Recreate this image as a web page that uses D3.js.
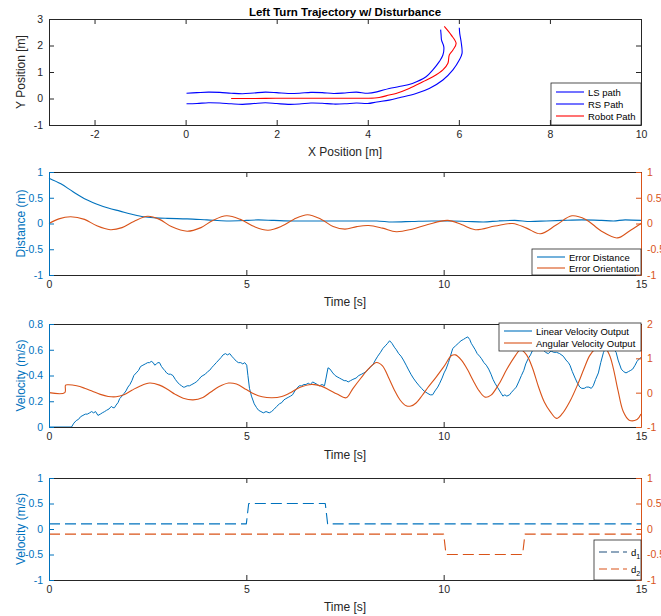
<!DOCTYPE html>
<html><head><meta charset="utf-8">
<script src="https://cdn.jsdelivr.net/npm/d3@7/dist/d3.min.js"></script>
<style>body{margin:0;background:#fff}svg{display:block;font-family:"Liberation Sans",Arial,Helvetica,sans-serif}</style>
</head><body><svg id="c" width="661" height="616"></svg>
<script>
// ---------- DATA ----------
const lsPathX = [0.02,0.25,0.5,0.75,1.0,1.25,1.5,1.75,2.0,2.25,2.5,2.75,3.0,3.25,3.5,3.75,4.0,4.2,4.47,4.69,4.98,5.28,5.43,5.57,5.65,5.67,5.62,5.61,5.6];
const lsPathY = [0.20,0.22,0.24,0.23,0.20,0.18,0.21,0.24,0.22,0.19,0.20,0.23,0.22,0.19,0.21,0.24,0.20,0.25,0.38,0.45,0.57,0.82,1.08,1.39,1.64,1.95,2.2,2.4,2.6];
const rsPathX = [0.02,0.25,0.5,0.75,1.0,1.25,1.5,1.75,2.0,2.25,2.5,2.75,3.0,3.25,3.5,3.75,4.0,4.2,4.47,4.69,5.06,5.35,5.65,5.87,6.01,6.07,6.05,6.02,6.01];
const rsPathY = [-0.20,-0.19,-0.16,-0.17,-0.20,-0.22,-0.19,-0.16,-0.19,-0.22,-0.21,-0.17,-0.18,-0.21,-0.20,-0.17,-0.19,-0.13,-0.06,0.03,0.19,0.38,0.70,1.08,1.45,1.70,2.14,2.45,2.67];
const robotPathX = [1.0,1.5,2.0,2.5,3.0,3.5,4.0,4.25,4.47,4.62,4.91,5.21,5.43,5.65,5.76,5.79,5.87,5.94,5.83,5.68];
const robotPathY = [0,0,0.01,0.01,0.01,0.01,0.01,0.04,0.13,0.19,0.38,0.63,0.82,1.08,1.33,1.64,1.83,2.08,2.40,2.72];

const errDistT = [0,0.3,0.6,0.9,1.2,1.5,1.8,2.1,2.4,2.7,3.0,3.5,4.0,4.5,5.0,5.3,5.7,6.2,6.8,7.3,7.8,8.3,8.7,9.2,9.7,10.2,10.6,11.0,11.4,11.8,12.2,12.6,13.0,13.5,14.0,14.3,14.6,15.0];
const errDist  = [0.88,0.77,0.62,0.48,0.38,0.30,0.24,0.18,0.13,0.11,0.10,0.09,0.07,0.05,0.06,0.07,0.06,0.05,0.05,0.05,0.05,0.05,0.03,0.04,0.05,0.05,0.04,0.03,0.05,0.06,0.04,0.05,0.06,0.07,0.06,0.05,0.07,0.06];
const errOrT = [0,0.25,0.55,0.9,1.2,1.55,1.85,2.15,2.5,2.8,3.1,3.5,3.85,4.15,4.5,4.85,5.2,5.55,5.9,6.2,6.55,6.9,7.2,7.5,7.8,8.1,8.45,8.8,9.2,9.6,10.1,10.45,10.8,11.3,11.75,12.1,12.45,12.85,13.25,13.6,14.0,14.4,14.7,15.0];
const errOr  = [0,0.09,0.13,0.08,-0.04,-0.12,-0.08,0.04,0.14,0.08,-0.06,-0.15,-0.08,0.06,0.15,0.08,-0.06,-0.13,-0.05,0.08,0.17,0.08,-0.06,-0.11,-0.06,-0.04,-0.09,-0.16,-0.11,-0.02,0.06,-0.02,-0.12,-0.05,0.00,-0.09,-0.20,-0.03,0.15,0.08,-0.15,-0.28,-0.15,0.0];

const linT = [0,0.57,0.63,0.69,0.75,0.8,0.86,0.92,0.97,1.03,1.08,1.13,1.18,1.24,1.3,1.35,1.41,1.46,1.52,1.58,1.62,1.66,1.7,1.75,1.79,1.85,1.9,1.95,2.0,2.05,2.1,2.15,2.21,2.27,2.32,2.38,2.44,2.5,2.55,2.59,2.64,2.68,2.72,2.76,2.8,2.85,2.9,2.93,2.98,3.03,3.08,3.14,3.2,3.25,3.31,3.36,3.4,3.44,3.5,3.56,3.62,3.68,3.73,3.8,3.85,3.9,3.96,4.02,4.07,4.12,4.18,4.24,4.3,4.36,4.41,4.47,4.52,4.58,4.63,4.69,4.75,4.8,4.86,4.91,4.96,5.01,5.04,5.08,5.13,5.2,5.26,5.31,5.37,5.43,5.5,5.58,5.64,5.71,5.77,5.84,5.9,5.95,6.0,6.06,6.12,6.17,6.23,6.28,6.34,6.4,6.46,6.51,6.57,6.62,6.68,6.74,6.8,6.85,6.92,6.98,7.02,7.07,7.12,7.19,7.25,7.3,7.36,7.42,7.48,7.53,7.58,7.64,7.7,7.78,7.85,7.92,7.98,8.03,8.1,8.15,8.2,8.27,8.33,8.4,8.46,8.52,8.58,8.63,8.69,8.75,8.8,8.86,8.92,8.98,9.05,9.1,9.17,9.23,9.3,9.38,9.44,9.5,9.55,9.6,9.66,9.72,9.78,9.85,9.9,9.96,10.01,10.06,10.12,10.17,10.23,10.3,10.37,10.44,10.5,10.55,10.61,10.66,10.7,10.74,10.8,10.85,10.91,10.96,11.02,11.08,11.14,11.2,11.25,11.3,11.36,11.42,11.46,11.5,11.55,11.6,11.67,11.72,11.78,11.84,11.9,11.97,12.03,12.08,12.14,12.2,12.26,12.31,12.37,12.44,12.52,12.58,12.65,12.72,12.79,12.86,12.94,13.03,13.1,13.16,13.2,13.26,13.33,13.39,13.45,13.5,13.56,13.62,13.68,13.74,13.79,13.85,13.92,13.98,14.05,14.12,14.2,14.26,14.32,14.37,14.42,14.5,14.56,14.62,14.68,14.74,14.79,14.85,14.9,14.96,15.0];
const linVel = [0,0,0.03,0.05,0.06,0.08,0.09,0.10,0.10,0.11,0.12,0.11,0.12,0.09,0.10,0.11,0.12,0.13,0.14,0.16,0.15,0.15,0.17,0.19,0.22,0.24,0.26,0.28,0.31,0.33,0.36,0.40,0.42,0.44,0.47,0.48,0.49,0.50,0.50,0.51,0.50,0.48,0.49,0.50,0.50,0.47,0.45,0.44,0.42,0.41,0.41,0.40,0.37,0.35,0.33,0.32,0.31,0.31,0.32,0.32,0.33,0.34,0.35,0.37,0.39,0.40,0.41,0.43,0.44,0.46,0.48,0.50,0.52,0.54,0.56,0.57,0.56,0.57,0.55,0.53,0.51,0.50,0.50,0.49,0.50,0.48,0.40,0.30,0.24,0.18,0.15,0.13,0.12,0.11,0.12,0.11,0.12,0.14,0.16,0.18,0.19,0.21,0.22,0.23,0.24,0.25,0.28,0.30,0.32,0.32,0.33,0.33,0.34,0.33,0.35,0.34,0.33,0.32,0.33,0.32,0.38,0.46,0.45,0.42,0.40,0.39,0.38,0.37,0.36,0.36,0.35,0.36,0.37,0.38,0.40,0.41,0.42,0.43,0.45,0.47,0.48,0.52,0.55,0.58,0.61,0.63,0.65,0.67,0.65,0.62,0.60,0.57,0.55,0.52,0.48,0.45,0.41,0.38,0.35,0.32,0.30,0.28,0.27,0.26,0.25,0.25,0.28,0.31,0.34,0.38,0.42,0.45,0.50,0.55,0.61,0.63,0.65,0.67,0.68,0.69,0.70,0.68,0.65,0.63,0.60,0.57,0.55,0.53,0.50,0.48,0.45,0.41,0.37,0.34,0.31,0.28,0.26,0.24,0.25,0.24,0.25,0.27,0.29,0.31,0.35,0.40,0.44,0.49,0.53,0.56,0.60,0.62,0.61,0.60,0.60,0.58,0.57,0.59,0.58,0.58,0.57,0.55,0.52,0.50,0.48,0.43,0.38,0.34,0.31,0.30,0.30,0.31,0.31,0.30,0.32,0.37,0.42,0.50,0.58,0.62,0.64,0.62,0.60,0.58,0.52,0.45,0.43,0.42,0.43,0.44,0.45,0.48,0.51,0.53,0.54];
const angT = [0,0.40,0.42,0.5,0.7,0.9,1.1,1.3,1.5,1.7,1.9,2.1,2.3,2.55,2.8,3.0,3.2,3.4,3.65,3.9,4.1,4.3,4.55,4.75,5.0,5.2,5.4,5.65,5.9,6.1,6.35,6.65,6.9,7.1,7.3,7.53,7.7,7.9,8.1,8.3,8.45,8.6,8.75,8.9,9.05,9.17,9.3,9.45,9.6,9.8,10.0,10.2,10.3,10.45,10.6,10.75,10.9,11.05,11.2,11.4,11.6,11.8,11.95,12.1,12.25,12.4,12.55,12.7,12.86,13.0,13.2,13.4,13.55,13.7,13.85,14.05,14.2,14.3,14.42,14.55,14.7,14.9,15.0];
const angVel = [0,0,0.22,0.23,0.20,0.13,0.04,-0.05,-0.11,-0.12,-0.06,0.07,0.19,0.28,0.22,0.10,-0.05,-0.16,-0.21,-0.14,0.02,0.17,0.28,0.25,0.09,-0.04,-0.12,-0.15,-0.11,-0.01,0.15,0.24,0.19,0.08,-0.04,-0.15,0.12,0.42,0.70,0.88,0.78,0.45,0.08,-0.22,-0.38,-0.39,-0.30,-0.09,0.15,0.44,0.75,1.08,1.10,0.95,0.68,0.35,0.05,-0.13,-0.07,0.25,0.68,1.05,1.25,1.10,0.72,0.18,-0.27,-0.55,-0.75,-0.62,-0.25,0.25,0.68,1.08,1.28,1.35,1.10,0.70,0.05,-0.55,-0.80,-0.78,-0.62];

const d1T = [0,5.0,5.06,7.0,7.06,15];
const d1V = [0.1,0.1,0.5,0.5,0.1,0.1];
const d2T = [0,10.0,10.06,12.0,12.06,15];
const d2V = [-0.1,-0.1,-0.5,-0.5,-0.1,-0.1];

const p1XTicks = [-2,0,2,4,6,8,10];
const p1YTicks = [-1,0,1,2,3];
const timeTicks = [0,5,10,15];
const unitTicks = [-1,-0.5,0,0.5,1];
const velLeftTicks = [0,0.2,0.4,0.6,0.8];
const velRightTicks = [-1,0,1,2];

// ---------- STYLE ----------
const BLUE = "#0072BD", ORANGE = "#D95319", AX = "#262626";
const L = 49, R = 641;
const svg = d3.select("#c");
const fmt = d => String(d);

function line(g, xs, ys, X, Y, color, opts = {}) {
  const pts = xs.map((x, i) => [x, ys[i]]);
  const gen = d3.line().x(d => X(d[0])).y(d => Y(d[1])).curve(opts.curve || d3.curveLinear);
  g.append("path").attr("d", gen(pts)).attr("fill", "none").attr("stroke", color)
    .attr("stroke-width", opts.w || 1.1).attr("stroke-dasharray", opts.dash || null)
    .attr("stroke-linejoin", "round");
}

function styleAxis(sel, color, fs) {
  sel.selectAll("path.domain").attr("stroke", color).attr("stroke-width", 1);
  sel.selectAll(".tick line").attr("stroke", color);
  sel.selectAll(".tick text").attr("fill", color).attr("font-size", fs || 10.5)
    .attr("font-family", '"Liberation Sans",Arial,sans-serif');
}

function axes(top, bottom, X, xTicks, yl, ylTicks, ylColor, yr, yrTicks, yrColor) {
  const g = svg.append("g");
  const tk = 5;
  styleAxis(g.append("g").attr("transform", `translate(0,${top})`)
    .call(d3.axisTop(X).tickValues(xTicks).tickSizeInner(-tk).tickSizeOuter(0).tickFormat("")), AX);
  styleAxis(g.append("g").attr("transform", `translate(0,${bottom})`)
    .call(d3.axisBottom(X).tickValues(xTicks).tickSizeInner(-tk).tickSizeOuter(0).tickPadding(6).tickFormat(fmt)), AX);
  styleAxis(g.append("g").attr("transform", `translate(${L},0)`)
    .call(d3.axisLeft(yl).tickValues(ylTicks).tickSizeInner(-tk).tickSizeOuter(0).tickPadding(6).tickFormat(fmt)), ylColor);
  if (yr) {
    styleAxis(g.append("g").attr("transform", `translate(${R},0)`)
      .call(d3.axisRight(yr).tickValues(yrTicks).tickSizeInner(-tk).tickSizeOuter(0).tickPadding(6).tickFormat(fmt)), yrColor);
  } else {
    styleAxis(g.append("g").attr("transform", `translate(${R},0)`)
      .call(d3.axisRight(yl).tickValues(ylTicks).tickSizeInner(-tk).tickSizeOuter(0).tickFormat("")), AX);
  }
  return g;
}

function text(x, y, s, opts = {}) {
  const t = svg.append("text").attr("x", x).attr("y", y).text(s)
    .attr("font-size", opts.fs || 12).attr("fill", opts.color || AX)
    .attr("text-anchor", opts.anchor || "middle");
  if (opts.bold) t.attr("font-weight", "bold");
  if (opts.rot) t.attr("transform", `rotate(-90,${x},${y})`);
  return t;
}

function legend(x0, y0, w, h, items) {
  const g = svg.append("g");
  g.append("rect").attr("x", x0).attr("y", y0).attr("width", w).attr("height", h)
    .attr("fill", "#fff").attr("stroke", AX).attr("stroke-width", 0.8);
  items.forEach(it => {
    g.append("line").attr("x1", x0 + 5).attr("x2", x0 + 33).attr("y1", it.y).attr("y2", it.y)
      .attr("stroke", it.color).attr("stroke-width", 1.1).attr("stroke-dasharray", it.dash || null);
    const t = g.append("text").attr("x", x0 + 37).attr("y", it.y + 3.5).attr("font-size", 9.5).attr("fill", "#000");
    if (it.sub) {
      t.append("tspan").text(it.label);
      t.append("tspan").text(it.sub).attr("font-size", 7).attr("dy", 3);
    } else t.text(it.label);
  });
}

// ---------- PANEL 1 ----------
{
  const top = 19, bottom = 125;
  const X = d3.scaleLinear().domain([-3, 10]).range([L, R]);
  const Y = d3.scaleLinear().domain([-1, 3]).range([bottom, top]);
  const g = svg.append("g");
  const cr = d3.curveCatmullRom;
  line(g, lsPathX, lsPathY, X, Y, "#0000FF", {curve: cr});
  line(g, rsPathX, rsPathY, X, Y, "#0000FF", {curve: cr});
  line(g, robotPathX, robotPathY, X, Y, "#FF0000", {curve: cr});
  axes(top, bottom, X, p1XTicks, Y, p1YTicks, AX, null);
  text((L + R) / 2, 16, "Left Turn Trajectory w/ Disturbance", {bold: true, fs: 11.5, color: "#000"});
  text((L + R) / 2, 156, "X Position [m]");
  text(25, (top + bottom) / 2, "Y Position [m]", {rot: true});
  legend(551, 83, 90, 42, [
    {y: 92, color: "#0000FF", label: "LS path"},
    {y: 104, color: "#0000FF", label: "RS Path"},
    {y: 116, color: "#FF0000", label: "Robot Path"}]);
}

// ---------- PANEL 2 ----------
{
  const top = 172, bottom = 275;
  const X = d3.scaleLinear().domain([0, 15]).range([L, R]);
  const Y = d3.scaleLinear().domain([-1, 1]).range([bottom, top]);
  const Y2 = d3.scaleLinear().domain([-1, 1]).range([bottom, top]);
  const g = svg.append("g");
  line(g, errDistT, errDist, X, Y, BLUE, {curve: d3.curveMonotoneX});
  line(g, errOrT, errOr, X, Y2, ORANGE, {curve: d3.curveCatmullRom});
  axes(top, bottom, X, timeTicks, Y, unitTicks, BLUE, Y2, unitTicks, ORANGE);
  text((L + R) / 2, 306, "Time [s]");
  text(25, (top + bottom) / 2, "Distance (m)", {rot: true, color: BLUE});
  legend(532, 249, 109, 26, [
    {y: 257, color: BLUE, label: "Error Distance"},
    {y: 268, color: ORANGE, label: "Error Orientation"}]);
}

// ---------- PANEL 3 ----------
{
  const top = 324, bottom = 427;
  const X = d3.scaleLinear().domain([0, 15]).range([L, R]);
  const Y = d3.scaleLinear().domain([0, 0.8]).range([bottom, top]);
  const Y2 = d3.scaleLinear().domain([-1, 2]).range([bottom, top]);
  const g = svg.append("g");
  line(g, linT, linVel, X, Y, BLUE, {w: 1});
  line(g, angT, angVel, X, Y2, ORANGE, {curve: d3.curveCatmullRom});
  axes(top, bottom, X, timeTicks, Y, velLeftTicks, BLUE, Y2, velRightTicks, ORANGE);
  text((L + R) / 2, 459, "Time [s]");
  text(25, (top + bottom) / 2, "Velocity (m/s)", {rot: true, color: BLUE});
  legend(499, 323, 142, 28, [
    {y: 331, color: BLUE, label: "Linear Velocity Output"},
    {y: 343, color: ORANGE, label: "Angular Velocity Output"}]);
}

// ---------- PANEL 4 ----------
{
  const top = 478, bottom = 580;
  const X = d3.scaleLinear().domain([0, 15]).range([L, R]);
  const Y = d3.scaleLinear().domain([-1, 1]).range([bottom, top]);
  const Y2 = d3.scaleLinear().domain([-1, 1]).range([bottom, top]);
  const g = svg.append("g");
  line(g, d1T, d1V, X, Y, BLUE, {dash: "11,5"});
  line(g, d2T, d2V, X, Y2, ORANGE, {dash: "11,5"});
  axes(top, bottom, X, timeTicks, Y, unitTicks, BLUE, Y2, unitTicks, ORANGE);
  text((L + R) / 2, 611, "Time [s]");
  text(25, (top + bottom) / 2, "Velocity (m/s)", {rot: true, color: BLUE});
  legend(594, 540, 47, 40, [
    {y: 552, color: "#1f4f7d", label: "d", sub: "1", dash: "8,4"},
    {y: 569, color: ORANGE, label: "d", sub: "2", dash: "8,4"}]);
}
</script></body></html>
